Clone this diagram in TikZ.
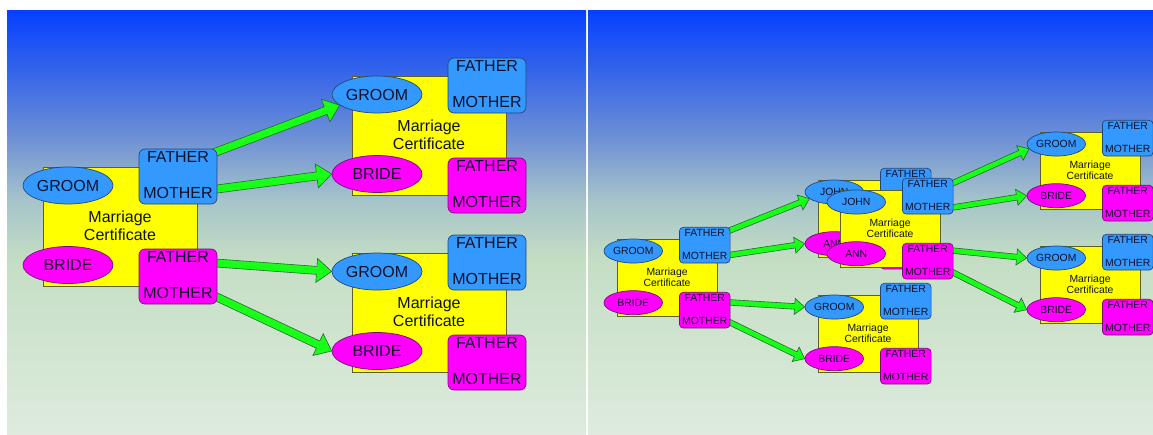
\documentclass[tikz,border=0pt]{standalone}
\usepackage{fontspec}
\setmainfont{Liberation Sans}
\usetikzlibrary{calc,shapes.geometric}
\definecolor{bgA}{RGB}{5,64,255}
\definecolor{bgB}{RGB}{52,100,234}
\definecolor{bgC}{RGB}{112,146,212}
\definecolor{bgD}{RGB}{166,196,202}
\definecolor{bgE}{RGB}{196,222,196}
\definecolor{bgF}{RGB}{222,235,222}
\definecolor{pblue}{RGB}{51,153,255}
\definecolor{pmag}{RGB}{255,0,255}
\definecolor{pyel}{RGB}{255,255,0}
\definecolor{pgrn}{RGB}{24,255,24}
\definecolor{agrn}{RGB}{40,100,50}
\definecolor{txt}{RGB}{16,16,42}
\definecolor{blueline}{RGB}{35,70,125}
\definecolor{magline}{RGB}{110,20,110}
\definecolor{yelline}{RGB}{95,95,40}
\pgfdeclarelayer{bglayer}
\pgfdeclarelayer{arrlayer}
\pgfsetlayers{bglayer,arrlayer,main}
\tikzset{
  certbox/.style={draw=yelline, fill=pyel, line width=0.7pt, anchor=north west, inner sep=0pt},
  parbox/.style={line width=0.7pt, inner sep=0pt},
  pell/.style={ellipse, line width=0.7pt, inner sep=0pt, text=txt},
  ltext/.style={text=txt, inner sep=0pt, align=center},
  arrowbody/.style={fill=pgrn, draw=agrn, line width=0.6pt, line join=miter}
}
\newcommand{\mcbigf}{\fontsize{16}{18}\selectfont}
\newcommand{\mcsmallf}{\fontsize{10.4}{11.7}\selectfont}
\def\mcbackword{back}
% #1 name, #2 x, #3 y, #4 scale, #5 font, #6 groom text, #7 bride text, #8 back/front
\newcommand{\mcert}[8]{%
  \pgfmathsetmacro{\mcs}{#4}%
  \pgfmathsetmacro{\mcrc}{6*#4}%
  \def\mcwhich{#8}%
  \begin{scope}[shift={(#2,#3)}]
    \node[certbox, minimum width=\mcs*154pt, minimum height=\mcs*119pt] (#1) at (0,0) {};
    \ifx\mcwhich\mcbackword\else
    \node[ltext, font=#5] (#1-t) at (\mcs*77,\mcs*59) {Marriage\\Certificate};
    \fi
    \node[pell, fill=pblue, draw=blueline, font=#5, minimum width=\mcs*90pt, minimum height=\mcs*37pt] (#1-g) at (\mcs*25,\mcs*18.5) {#6};
    \node[pell, fill=pmag, draw=magline, font=#5, minimum width=\mcs*90pt, minimum height=\mcs*37pt] (#1-b) at (\mcs*25,\mcs*98) {#7};
    \node[parbox, fill=pblue, draw=blueline, rounded corners=\mcrc pt, minimum width=\mcs*78pt, minimum height=\mcs*55pt] (#1-pf) at (\mcs*135,\mcs*9.5) {};
    \node[ltext, font=#5] (#1-pf-f) at (\mcs*135,\mcs*-10) {FATHER};
    \node[parbox, fill=pmag, draw=magline, rounded corners=\mcrc pt, minimum width=\mcs*78pt, minimum height=\mcs*55pt] (#1-pb) at (\mcs*135,\mcs*109.5) {};
    \ifx\mcwhich\mcbackword\else
    \node[ltext, font=#5] (#1-pf-m) at (\mcs*135,\mcs*26) {MOTHER};
    \node[ltext, font=#5] (#1-pb-f) at (\mcs*135,\mcs*90) {FATHER};
    \node[ltext, font=#5] (#1-pb-m) at (\mcs*135,\mcs*126) {MOTHER};
    \fi
  \end{scope}}
% #1 shaft half width, #2 head half width, #3 head length, #4 start, #5 end
\newcommand{\garrow}[5]{%
  \path (#4) coordinate (ga-s) (#5) coordinate (ga-e);
  \path ($(ga-e)!#3!(ga-s)$) coordinate (ga-h);
  \filldraw[arrowbody] ($(ga-s)!#1!90:(ga-e)$) -- ($(ga-h)!#1!-90:(ga-s)$) -- ($(ga-h)!#2!-90:(ga-s)$) -- (ga-e) -- ($(ga-h)!#2!90:(ga-s)$) -- ($(ga-h)!#1!90:(ga-s)$) -- ($(ga-s)!#1!-90:(ga-e)$) -- cycle;}
\begin{document}
\begin{tikzpicture}[x=1pt,y=-1pt]
\useasboundingbox (0,0) rectangle (1153,434);
\begin{pgfonlayer}{bglayer}
  \fill[white] (0,0) rectangle (1153,434);
  \foreach \xa/\xb in {7/586,588/1153}{
    \fill[top color=bgA,bottom color=bgB] (\xa,10) rectangle (\xb,70.5);
    \fill[top color=bgB,bottom color=bgC] (\xa,70) rectangle (\xb,140.5);
    \fill[top color=bgC,bottom color=bgD] (\xa,140) rectangle (\xb,200.5);
    \fill[top color=bgD,bottom color=bgE] (\xa,200) rectangle (\xb,260.5);
    \fill[top color=bgE,bottom color=bgF] (\xa,260) rectangle (\xb,434);
  }
\end{pgfonlayer}
% left panel
\mcert{L1}{43}{167}{1}{\mcbigf}{GROOM}{BRIDE}{front}
\mcert{L2}{352}{76}{1}{\mcbigf}{GROOM}{BRIDE}{front}
\mcert{L3}{352}{253}{1}{\mcbigf}{GROOM}{BRIDE}{front}
% right panel
\mcert{RA}{617}{239}{0.65}{\mcsmallf}{GROOM}{BRIDE}{front}
\mcert{RB}{818}{295}{0.65}{\mcsmallf}{GROOM}{BRIDE}{front}
\mcert{RCb}{818}{180}{0.65}{\mcsmallf}{JOHN}{ANN}{back}
\mcert{RCf}{840}{190}{0.65}{\mcsmallf}{JOHN}{ANN}{front}
\mcert{RD}{1040}{132}{0.65}{\mcsmallf}{GROOM}{BRIDE}{front}
\mcert{RE}{1040}{246}{0.65}{\mcsmallf}{GROOM}{BRIDE}{front}
\begin{pgfonlayer}{arrlayer}
  \garrow{4pt}{12pt}{15pt}{$(L1-pf.east)+(-8,-22)$}{L2-g.196}
  \garrow{4pt}{12pt}{15pt}{$(L1-pf.east)+(-8,13.5)$}{L2-b.west}
  \garrow{4pt}{12pt}{15pt}{$(L1-pb.east)+(-8,-14)$}{L3-g.west}
  \garrow{4pt}{12pt}{15pt}{$(L1-pb.east)+(-8,17)$}{L3-b.west}
  \garrow{2.8pt}{8pt}{10pt}{$(RA-pf.east)+(-5,-13)$}{RCb-g.195}
  \garrow{2.8pt}{8pt}{10pt}{$(RA-pf.east)+(-5,10.5)$}{RCb-b.west}
  \garrow{2.8pt}{8pt}{10pt}{$(RA-pb.east)+(-5,-8)$}{RB-g.west}
  \garrow{2.8pt}{8pt}{10pt}{$(RA-pb.east)+(-5,10)$}{RB-b.west}
  \garrow{2.8pt}{8pt}{10pt}{$(RCf-pf.east)+(-5,-11)$}{RD-g.190}
  \garrow{2.8pt}{8pt}{10pt}{$(RCf-pf.east)+(-5,12)$}{RD-b.west}
  \garrow{2.8pt}{8pt}{10pt}{$(RCf-pb.east)+(-5,-11)$}{RE-g.west}
  \garrow{2.8pt}{8pt}{10pt}{$(RCf-pb.east)+(-5,9)$}{RE-b.west}
\end{pgfonlayer}
\end{tikzpicture}
\end{document}
